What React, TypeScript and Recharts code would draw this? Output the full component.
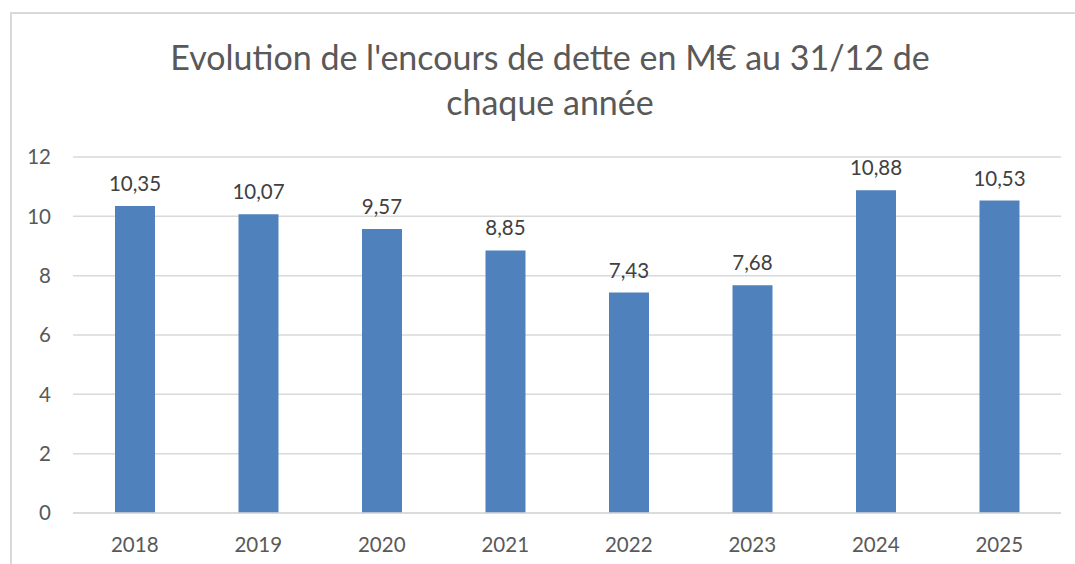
import { BarChart, Bar, XAxis, YAxis, CartesianGrid, LabelList } from "recharts";

const years = ["2018", "2019", "2020", "2021", "2022", "2023", "2024", "2025"];
const encours = [10.35, 10.07, 9.57, 8.85, 7.43, 7.68, 10.88, 10.53];
const yTicks = [0, 2, 4, 6, 8, 10, 12];

const data = years.map((year, i) => ({ year, encours: encours[i] }));

const fmt = (v: any) => Number(v).toFixed(2).replace(".", ",");

export default function App() {
  return (
    <div style={{ position: "relative", width: 1075, height: 564, overflow: "hidden", background: "#fff", fontFamily: "Lato, 'Open Sans', sans-serif" }}>
      <style>{"body{margin:0}"}</style>
      <div style={{ position: "absolute", left: 10, top: 12, width: 1100, height: 600, border: "2px solid #d9d9d9", boxSizing: "border-box" }} />
      <div style={{ position: "absolute", left: 0, top: 34, width: 1100, textAlign: "center", color: "#595959", fontSize: 34, lineHeight: "45px" }}>
        Evolution de l'encours de dette en M€ au 31/12 de
        <br />
        chaque année
      </div>
      <div style={{ position: "absolute", left: 0, top: 0 }}>
        <BarChart width={1075} height={564} data={data} margin={{ top: 157, right: 14, bottom: 0, left: 0 }} barCategoryGap="34%">
          <CartesianGrid vertical={false} stroke="#d9d9d9" strokeWidth={1.5} />
          <XAxis
            dataKey="year"
            height={51}
            axisLine={{ stroke: "#d9d9d9", strokeWidth: 1.5 }}
            tickLine={false}
            tickSize={0}
            tickMargin={24}
            tick={{ fill: "#595959", fontSize: 20.5 }}
          />
          <YAxis
            width={73}
            domain={[0, 12]}
            ticks={yTicks}
            axisLine={false}
            tickLine={false}
            tickSize={0}
            tickMargin={22}
            tick={{ fill: "#595959", fontSize: 20.5 }}
          />
          <Bar dataKey="encours" fill="#4f81bd" isAnimationActive={false}>
            <LabelList dataKey="encours" position="top" offset={15} formatter={fmt} fill="#404040" fontSize={20.5} />
          </Bar>
        </BarChart>
      </div>
    </div>
  );
}
